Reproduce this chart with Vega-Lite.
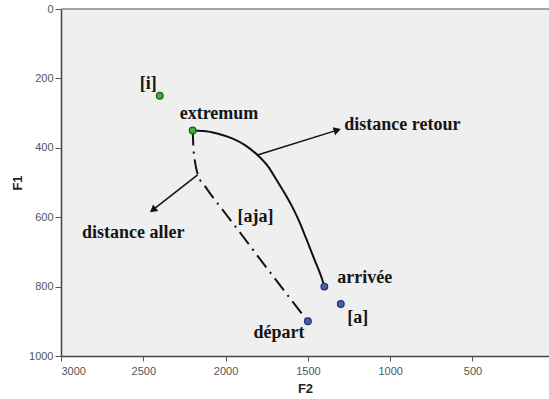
{
  "$schema": "https://vega.github.io/schema/vega-lite/v6.json",
  "width": 488,
  "height": 347,
  "autosize": "none",
  "padding": {"left": 61, "top": 9, "right": 0, "bottom": 43},
  "background": "white",
  "config": {
    "view": {"fill": "#efefef", "stroke": null},
    "axis": {
      "grid": false,
      "labelFont": "Liberation Sans",
      "labelFontSize": 11,
      "labelColor": "#555555",
      "tickColor": "#555555",
      "domainColor": "#444444",
      "domainWidth": 1.5,
      "titleFont": "Liberation Sans",
      "titleFontSize": 13,
      "titleFontWeight": "bold",
      "titleColor": "#222222",
      "format": "d"
    }
  },
  "datasets": {
    "vowels": [
      {"label": "[i]", "F2": 2400, "F1": 250, "group": "front"},
      {"label": "extremum", "F2": 2200, "F1": 350, "group": "front"},
      {"label": "arrivée", "F2": 1400, "F1": 800, "group": "open"},
      {"label": "[a]", "F2": 1300, "F1": 850, "group": "open"},
      {"label": "départ", "F2": 1500, "F1": 900, "group": "open"}
    ],
    "retour": [
      {"i": 1, "F2": 2200, "F1": 350},
      {"i": 2, "F2": 2120, "F1": 352},
      {"i": 3, "F2": 2040, "F1": 360},
      {"i": 4, "F2": 1960, "F1": 373},
      {"i": 5, "F2": 1880, "F1": 393},
      {"i": 6, "F2": 1806, "F1": 421},
      {"i": 7, "F2": 1740, "F1": 455},
      {"i": 8, "F2": 1690, "F1": 493},
      {"i": 9, "F2": 1640, "F1": 532},
      {"i": 10, "F2": 1594, "F1": 571},
      {"i": 11, "F2": 1550, "F1": 615},
      {"i": 12, "F2": 1510, "F1": 662},
      {"i": 13, "F2": 1460, "F1": 722},
      {"i": 14, "F2": 1412, "F1": 781},
      {"i": 15, "F2": 1400, "F1": 800}
    ],
    "aller": [
      {"i": 1, "F2": 2200, "F1": 350},
      {"i": 2, "F2": 2196, "F1": 395},
      {"i": 3, "F2": 2186, "F1": 440},
      {"i": 4, "F2": 2168, "F1": 478},
      {"i": 5, "F2": 2120, "F1": 514},
      {"i": 6, "F2": 2000, "F1": 590},
      {"i": 7, "F2": 1900, "F1": 652},
      {"i": 8, "F2": 1800, "F1": 715},
      {"i": 9, "F2": 1700, "F1": 777},
      {"i": 10, "F2": 1600, "F1": 839},
      {"i": 11, "F2": 1500, "F1": 900}
    ],
    "arrows": [
      {"name": "retour", "F2": 1806, "F1": 421, "F2tip": 1321, "F1tip": 349},
      {"name": "aller", "F2": 2170, "F1": 478, "F2tip": 2442, "F1tip": 579}
    ],
    "labels": [
      {"text": "[i]", "F2": 2521, "F1": 231},
      {"text": "extremum", "F2": 2279, "F1": 317},
      {"text": "distance retour", "F2": 1279, "F1": 349},
      {"text": "distance aller", "F2": 2873, "F1": 660},
      {"text": "[aja]", "F2": 1927, "F1": 614},
      {"text": "arrivée", "F2": 1321, "F1": 790},
      {"text": "[a]", "F2": 1261, "F1": 905},
      {"text": "départ", "F2": 1830, "F1": 948}
    ]
  },
  "layer": [
    {
      "data": {"values": [{"F1": 0}]},
      "mark": {"type": "rule", "color": "#8a8a8a", "strokeWidth": 1.5},
      "encoding": {
        "y": {"field": "F1", "type": "quantitative", "scale": {"domain": [0, 1000], "reverse": true, "nice": false},
              "axis": {"title": "F1", "values": [0, 200, 400, 600, 800, 1000], "tickSize": 6, "labelPadding": 2, "titlePadding": 4}}
      }
    },
    {
      "data": {"name": "retour"},
      "mark": {"type": "line", "color": "#111111", "strokeWidth": 2, "interpolate": "monotone"},
      "encoding": {
        "x": {"field": "F2", "type": "quantitative", "scale": {"domain": [35, 3000], "reverse": true, "nice": false},
              "axis": {"title": "F2", "values": [500, 1000, 1500, 2000, 2500, 3000], "tickSize": 5, "labelPadding": 4, "titlePadding": 6}},
        "y": {"field": "F1", "type": "quantitative"},
        "order": {"field": "i"}
      }
    },
    {
      "data": {"name": "aller"},
      "mark": {"type": "line", "color": "#111111", "strokeWidth": 2, "interpolate": "monotone", "strokeDash": [15, 6, 2, 6]},
      "encoding": {
        "x": {"field": "F2", "type": "quantitative"},
        "y": {"field": "F1", "type": "quantitative"},
        "order": {"field": "i"}
      }
    },
    {
      "data": {"name": "arrows"},
      "mark": {"type": "rule", "color": "#111111", "strokeWidth": 1.5},
      "encoding": {
        "x": {"field": "F2", "type": "quantitative"},
        "y": {"field": "F1", "type": "quantitative"},
        "x2": {"field": "F2tip"},
        "y2": {"field": "F1tip"}
      }
    },
    {
      "data": {"name": "arrows"},
      "transform": [{"filter": "datum.name === 'retour'"}],
      "mark": {"type": "point", "shape": "triangle-right", "angle": 343, "filled": true, "color": "#111111", "size": 70, "opacity": 1},
      "encoding": {
        "x": {"field": "F2tip", "type": "quantitative"},
        "y": {"field": "F1tip", "type": "quantitative"}
      }
    },
    {
      "data": {"name": "arrows"},
      "transform": [{"filter": "datum.name === 'aller'"}],
      "mark": {"type": "point", "shape": "triangle-right", "angle": 142, "filled": true, "color": "#111111", "size": 70, "opacity": 1},
      "encoding": {
        "x": {"field": "F2tip", "type": "quantitative"},
        "y": {"field": "F1tip", "type": "quantitative"}
      }
    },
    {
      "data": {"name": "vowels"},
      "mark": {"type": "point", "filled": true, "size": 45, "strokeWidth": 1.2, "opacity": 1},
      "encoding": {
        "x": {"field": "F2", "type": "quantitative"},
        "y": {"field": "F1", "type": "quantitative"},
        "fill": {"field": "group", "type": "nominal", "scale": {"domain": ["front", "open"], "range": ["#4aa83e", "#4a5fb0"]}, "legend": null},
        "stroke": {"field": "group", "type": "nominal", "scale": {"domain": ["front", "open"], "range": ["#1f5e1a", "#1f2f6a"]}, "legend": null}
      }
    },
    {
      "data": {"name": "labels"},
      "mark": {"type": "text", "font": "'Liberation Serif', 'DejaVu Serif', serif", "fontWeight": "bold", "fontSize": 18, "color": "#151515", "align": "left", "baseline": "alphabetic"},
      "encoding": {
        "x": {"field": "F2", "type": "quantitative"},
        "y": {"field": "F1", "type": "quantitative"},
        "text": {"field": "text"}
      }
    }
  ]
}
